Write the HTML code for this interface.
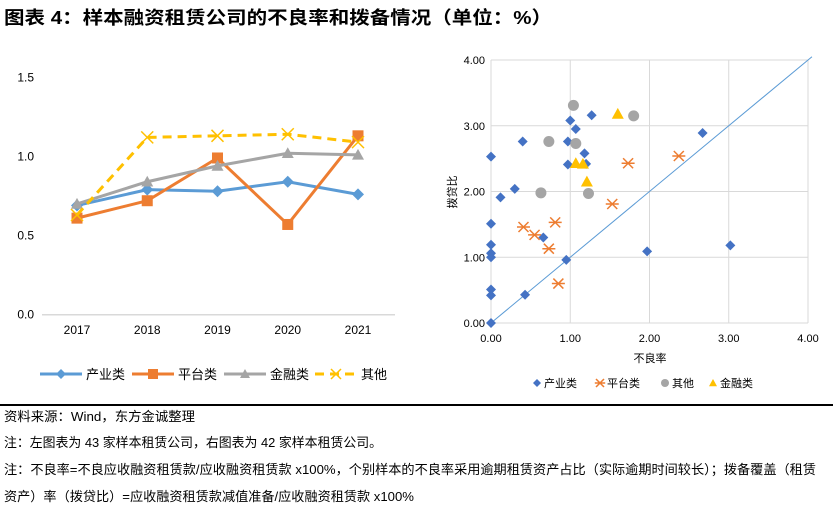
<!DOCTYPE html>
<html><head><meta charset="utf-8"><style>
body{margin:0;width:833px;height:513px;background:#fff;overflow:hidden;font-family:"Liberation Sans","Noto Sans CJK SC",sans-serif;}
svg{position:absolute;left:0;top:0}
</style></head><body>
<svg id="svg" width="833" height="513" font-family="Liberation Sans, Noto Sans CJK SC, sans-serif">
<text x="4" y="24" font-size="18" font-weight="bold" fill="#000" textLength="548" lengthAdjust="spacingAndGlyphs">图表 4：样本融资租赁公司的不良率和拨备情况（单位：%）</text>
<g id="left"></g>
<g id="right"></g>
<rect x="0" y="404" width="833" height="2" fill="#000"/>
<g font-size="13" fill="#000">
<text x="4" y="421" textLength="191" lengthAdjust="spacingAndGlyphs">资料来源：Wind，东方金诚整理</text>
<text x="4" y="447" textLength="378" lengthAdjust="spacingAndGlyphs">注：左图表为 43 家样本租赁公司，右图表为 42 家样本租赁公司。</text>
<text x="4" y="474" textLength="812" lengthAdjust="spacingAndGlyphs">注：不良率=不良应收融资租赁款/应收融资租赁款 x100%，个别样本的不良率采用逾期租赁资产占比（实际逾期时间较长）；拨备覆盖（租赁</text>
<text x="4" y="501" textLength="410" lengthAdjust="spacingAndGlyphs">资产）率（拨贷比）=应收融资租赁款减值准备/应收融资租赁款 x100%</text>
</g>
</svg>
<script>
const years=["2017","2018","2019","2020","2021"];
const yTicks=[0,0.5,1.0,1.5];
const sIndustry=[0.69,0.79,0.78,0.84,0.76];
const sPlatform=[0.61,0.72,0.99,0.57,1.13];
const sFinance=[0.70,0.84,0.94,1.02,1.01];
const sOther=[0.63,1.12,1.13,1.14,1.09];

const diamX=[0,0,0,0,0,0,0,0,0.12,0.3,0.4,0.43,0.66,0.95,0.97,0.97,1.0,1.07,1.18,1.2,1.27,1.97,2.67,3.02];
const diamY=[0,0.42,0.51,1.0,1.06,1.19,1.51,2.53,1.91,2.04,2.76,0.43,1.3,0.96,2.41,2.76,3.08,2.95,2.58,2.42,3.16,1.09,2.89,1.18];
const starX=[0.41,0.55,0.73,0.81,0.85,1.53,1.73,2.37];
const starY=[1.46,1.34,1.13,1.53,0.6,1.81,2.43,2.54];
const circX=[0.63,0.73,1.04,1.07,1.23,1.8];
const circY=[1.98,2.76,3.31,2.73,1.97,3.15];
const triX=[1.07,1.16,1.21,1.6];
const triY=[2.43,2.42,2.15,3.18];
const sTicks=[0,1,2,3,4];

const NS="http://www.w3.org/2000/svg";
function mk(p,tag,attrs){const e=document.createElementNS(NS,tag);for(const k in attrs)e.setAttribute(k,attrs[k]);p.appendChild(e);return e;}

const L=document.getElementById('left');
const lx=i=>77+i*70.25, ly=v=>314.7-v*158.3;
const ax=mk(L,'line',{x1:42,x2:395,y1:ly(0),y2:ly(0),stroke:'#d9d9d9','stroke-width':1.5});


yTicks.forEach(v=>{const t=mk(L,'text',{x:34,y:ly(v)+4,'font-size':12,'text-anchor':'end',fill:'#000'});t.textContent=v.toFixed(1);

});
years.forEach((y,i)=>{const t=mk(L,'text',{x:lx(i),y:334,'font-size':12,'text-anchor':'middle',fill:'#000'});t.textContent=y;

});
function marker(g,type,x,y,c,s){
 if(type==='d')return mk(g,'path',{d:`M${x} ${y-s}L${x+s} ${y}L${x} ${y+s}L${x-s} ${y}Z`,fill:c});
 if(type==='s')return mk(g,'rect',{x:x-s,y:y-s,width:2*s,height:2*s,fill:c});
 if(type==='t')return mk(g,'path',{d:`M${x} ${y-s}L${x+s} ${y+s*0.8}L${x-s} ${y+s*0.8}Z`,fill:c});
 if(type==='x')return mk(g,'path',{d:`M${x-s} ${y-s}L${x+s} ${y+s}M${x-s} ${y+s}L${x+s} ${y-s}`,stroke:c,'stroke-width':1.5,fill:'none'});
 if(type==='c')return mk(g,'circle',{cx:x,cy:y,r:s,fill:c});
 if(type==='*')return mk(g,'path',{d:`M${x-s} ${y-s}L${x+s} ${y+s}M${x-s} ${y+s}L${x+s} ${y-s}M${x-s*1.3} ${y}L${x+s*1.3} ${y}`,stroke:c,'stroke-width':1.5,fill:'none'});
}
const series=[[sIndustry,'#5b9bd5','d',6,'industry'],[sPlatform,'#ed7d31','s',5.5,'platform'],[sFinance,'#a5a5a5','t',6,'finance'],[sOther,'#ffc000','x',6,'other']];
series.forEach(([d,c,m,s,n])=>{
 const g=mk(L,'g',{});
 
 
 const p=mk(g,'polyline',{points:d.map((v,i)=>lx(i)+','+ly(v)).join(' '),fill:'none',stroke:c,'stroke-width':3,'stroke-dasharray':m==='x'?'9,6':'none'});
 
 
 d.forEach((v,i)=>{const e=marker(g,m,lx(i),ly(v),c,s);
 
 });
});
const legs=[['产业类',40],['平台类',132],['金融类',224],['其他',315]];
legs.forEach(([t,x],i)=>{const [d,c,m,s,n]=series[i];
 const g=mk(L,'g',{});
 
 
 mk(g,'line',{x1:x,x2:x+42,y1:374,y2:374,stroke:c,'stroke-width':3,'stroke-dasharray':m==='x'?'9,6':'none'});
 marker(g,m,x+21,374,c,5);
 const tt=mk(g,'text',{x:x+46,y:379,'font-size':13,fill:'#000'});tt.textContent=t;
});

const R=document.getElementById('right');
const sx=v=>491+v*79.25, sy=v=>323-v*65.75;
sTicks.forEach(v=>{
 const gl=mk(R,'line',{x1:sx(0),x2:sx(4),y1:sy(v),y2:sy(v),stroke:'#d9d9d9','stroke-width':1});
 
 
 const vl=mk(R,'line',{x1:sx(v),x2:sx(v),y1:sy(0),y2:sy(4),stroke:'#d9d9d9','stroke-width':1});
 
 
 const a=mk(R,'text',{x:485,y:sy(v)+4,'font-size':11,'text-anchor':'end',fill:'#000'});a.textContent=v.toFixed(2);
 
 
 const b=mk(R,'text',{x:sx(v),y:342,'font-size':11,'text-anchor':'middle',fill:'#000'});b.textContent=v.toFixed(2);
 
 
});
const dl=mk(R,'line',{x1:sx(0),y1:sy(0),x2:sx(4.05),y2:sy(4.05),stroke:'#5b9bd5','stroke-width':1});


const yt=mk(R,'text',{x:0,y:0,'font-size':11,'text-anchor':'middle',fill:'#000',transform:'translate(456,192) rotate(-90)'});yt.textContent='拨贷比';


const xt=mk(R,'text',{x:650,y:362,'font-size':11,'text-anchor':'middle',fill:'#000'});xt.textContent='不良率';


const sc=[[diamX,diamY,'d','#4472c4',5,'industry'],[starX,starY,'*','#ed7d31',5,'platform'],[circX,circY,'c','#a5a5a5',5.5,'other'],[triX,triY,'t','#ffc000',6,'finance']];
sc.forEach(([X,Y,m,c,s,n])=>{X.forEach((x,i)=>{const e=marker(R,m,sx(x),sy(Y[i]),c,s);
 
 });});
const sl=[['产业类',537,'d','#4472c4'],['平台类',600,'*','#ed7d31'],['其他',665,'c','#a5a5a5'],['金融类',713,'t','#ffc000']];
sl.forEach(([t,x,m,c])=>{const g=mk(R,'g',{});
 
 
 marker(g,m,x,383,c,4);
 const tt=mk(g,'text',{x:x+7,y:387,'font-size':11,fill:'#000'});tt.textContent=t;});
</script>
</body></html>
